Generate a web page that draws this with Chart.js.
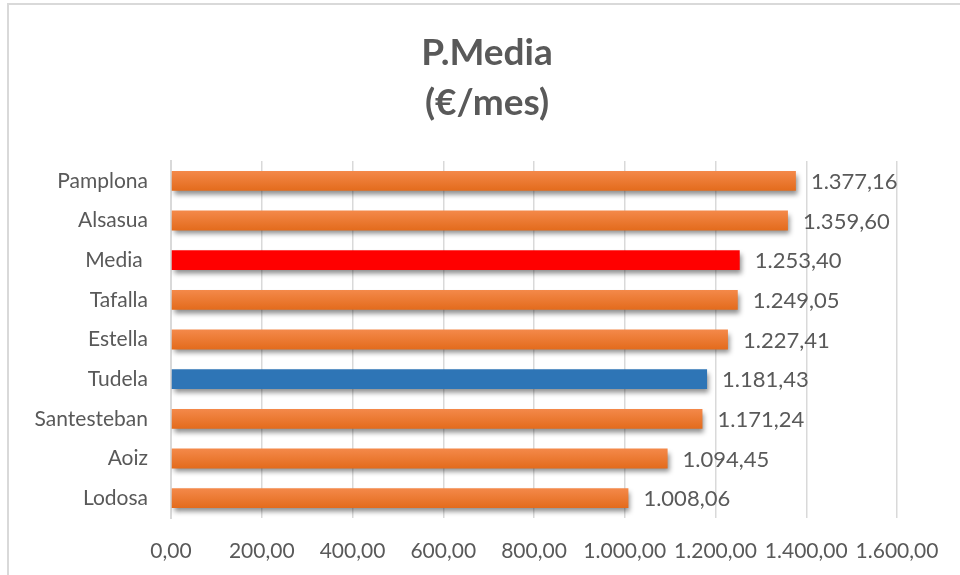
<!DOCTYPE html>
<html lang="es">
<head>
    <meta charset="UTF-8">
    <title>P.Media (€/mes)</title>
    <script src="https://cdn.jsdelivr.net/npm/chart.js"></script>
    <style>
        html, body {
            margin: 0;
            padding: 0;
            background: #fff;
        }
        .wrap {
            position: relative;
            width: 960px;
            height: 575px;
        }
    </style>
</head>
<body>
    <div class="wrap">
        <canvas id="chart" width="960" height="575"></canvas>
    </div>

    <script>
        const categories = ['Pamplona', 'Alsasua', 'Media ', 'Tafalla', 'Estella', 'Tudela', 'Santesteban', 'Aoiz', 'Lodosa'];
        const values = [1377.16, 1359.60, 1253.40, 1249.05, 1227.41, 1181.43, 1171.24, 1094.45, 1008.06];
        const xTicks = [0, 200, 400, 600, 800, 1000, 1200, 1400, 1600];
        const titleLines = ['P.Media', '(€/mes)'];

        const FONT = 'Lato, "Open Sans", sans-serif';
        const GREY = '#595959';

        // 1.377,16 style
        function fmt(v) {
            const parts = v.toFixed(2).split('.');
            const intPart = parts[0].replace(/\B(?=(\d{3})+(?!\d))/g, '.');
            return intPart + ',' + parts[1];
        }

        function barColor(ctx) {
            const name = categories[ctx.dataIndex];
            if (name.trim() === 'Media') return '#FF0000';
            if (name === 'Tudela') return '#2E75B6';
            const chart = ctx.chart;
            const el = chart.getDatasetMeta(0).data[ctx.dataIndex];
            if (!el || !Number.isFinite(el.y) || !Number.isFinite(el.height)) return '#ED7D31';
            const h = el.height;
            const g = chart.ctx.createLinearGradient(0, el.y - h / 2, 0, el.y + h / 2);
            g.addColorStop(0, '#F4894A');
            g.addColorStop(1, '#E36B1C');
            return g;
        }

        // frame lines + title, centred over the whole picture (Excel style)
        const frame = {
            id: 'frame',
            beforeDraw(chart) {
                const c = chart.ctx;
                c.save();
                c.strokeStyle = '#D9D9D9';
                c.lineWidth = 2;
                c.beginPath();
                c.moveTo(8, 575);
                c.lineTo(8, 4);
                c.lineTo(960, 4);
                c.stroke();

                c.fillStyle = GREY;
                c.font = 'bold 37px ' + FONT;
                c.textAlign = 'center';
                c.textBaseline = 'middle';
                c.fillText(titleLines[0], 487, 53);
                c.fillText(titleLines[1], 487, 103);
                c.restore();
            }
        };

        const barShadow = {
            id: 'barShadow',
            beforeDatasetsDraw(chart) {
                const c = chart.ctx;
                c.save();
                c.shadowColor = 'rgba(0,0,0,0.45)';
                c.shadowBlur = 5;
                c.shadowOffsetX = 2;
                c.shadowOffsetY = 4;
            },
            afterDatasetsDraw(chart) {
                chart.ctx.restore();
            }
        };

        const valueLabels = {
            id: 'valueLabels',
            afterDatasetsDraw(chart) {
                const c = chart.ctx;
                const meta = chart.getDatasetMeta(0);
                c.save();
                c.font = '22px ' + FONT;
                c.fillStyle = GREY;
                c.textAlign = 'left';
                c.textBaseline = 'middle';
                meta.data.forEach((bar, i) => {
                    c.fillText(fmt(values[i]), bar.x + 15, bar.y + 1);
                });
                c.restore();
            }
        };

        const chart = new Chart(document.getElementById('chart'), {
            type: 'bar',
            data: {
                labels: categories,
                datasets: [{
                    data: values,
                    backgroundColor: barColor,
                    borderWidth: 0,
                    barPercentage: 0.5,
                    categoryPercentage: 1
                }]
            },
            plugins: [frame, barShadow, valueLabels],
            options: {
                indexAxis: 'y',
                responsive: false,
                animation: false,
                layout: {
                    padding: { top: 161, left: 10, right: 63, bottom: 10 }
                },
                plugins: {
                    legend: { display: false },
                    tooltip: { enabled: false },
                    title: { display: false }
                },
                scales: {
                    x: {
                        min: 0,
                        max: 1600,
                        afterBuildTicks(axis) {
                            axis.ticks = xTicks.map(v => ({ value: v }));
                        },
                        afterFit(axis) { axis.height = 47; },
                        grid: {
                            color: '#D9D9D9',
                            lineWidth: 1.5,
                            drawTicks: false
                        },
                        border: { display: false },
                        ticks: {
                            padding: 21,
                            color: GREY,
                            maxRotation: 0,
                            autoSkip: false,
                            font: { family: FONT, size: 21 },
                            callback: v => fmt(v)
                        }
                    },
                    y: {
                        afterFit(axis) { axis.width = 161; },
                        grid: { display: false, drawTicks: false },
                        border: { display: true, color: '#D9D9D9', width: 2 },
                        ticks: {
                            padding: 23,
                            color: GREY,
                            font: { family: FONT, size: 21 }
                        }
                    }
                }
            }
        });
        // redraw once the bars have positions so the gradient can be built
        chart.update();
    </script>
</body>
</html>
